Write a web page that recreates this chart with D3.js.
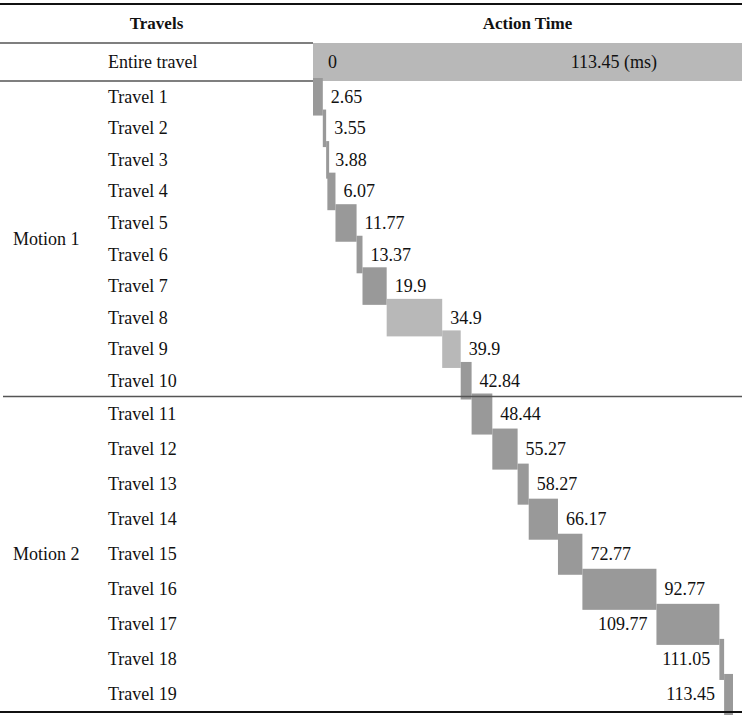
<!DOCTYPE html>
<html>
<head>
<meta charset="utf-8">
<script src="https://cdn.jsdelivr.net/npm/d3@7"></script>
<style>
  html, body { margin: 0; padding: 0; background: #fff; }
  svg { display: block; }
  text { font-family: "Liberation Serif", "Times New Roman", serif; fill: #111; }
</style>
</head>
<body>
<svg id="chart" width="742" height="716"></svg>
<script>
// ---------------- data ----------------
const columnHeaders = ["Travels", "Action Time"];
const groups = ["Motion 1", "Motion 2"];
const travels = ["Travel 1","Travel 2","Travel 3","Travel 4","Travel 5","Travel 6","Travel 7","Travel 8","Travel 9","Travel 10",
                 "Travel 11","Travel 12","Travel 13","Travel 14","Travel 15","Travel 16","Travel 17","Travel 18","Travel 19"];
const travelGroup = ["Motion 1","Motion 1","Motion 1","Motion 1","Motion 1","Motion 1","Motion 1","Motion 1","Motion 1","Motion 1",
                     "Motion 2","Motion 2","Motion 2","Motion 2","Motion 2","Motion 2","Motion 2","Motion 2","Motion 2"];
const endTimes = [2.65, 3.55, 3.88, 6.07, 11.77, 13.37, 19.9, 34.9, 39.9, 42.84,
                  48.44, 55.27, 58.27, 66.17, 72.77, 92.77, 109.77, 111.05, 113.45];
const barTone = ["dark","dark","dark","dark","dark","dark","dark","light","light","dark",
                 "dark","dark","dark","dark","dark","dark","dark","dark","dark"];
const entireLabel = "Entire travel";
const entireStart = 0;
const entireEnd = 113.45;
const timeUnit = "(ms)";

// ---------------- layout ----------------
const W = 742, H = 716;
const splitX = 313;
const topY = 4, headY = 43, entireY = 81, bottomY = 712;
const fontSize = 18;
const headSize = 17;
const colors = { dark: "#999999", light: "#b8b8b8", rule: "#555555" };

const svg = d3.select("#chart");

const rows = travels.map((t, i) => ({
  name: t,
  group: travelGroup[i],
  start: i === 0 ? entireStart : endTimes[i - 1],
  end: endTimes[i],
  tone: barTone[i]
}));

const x = d3.scaleLinear().domain([entireStart, entireEnd]).range([splitX, 733]);
const yGroup = d3.scaleBand().domain(groups).range([entireY, bottomY]);
const yRow = {};
groups.forEach(g => {
  yRow[g] = d3.scaleBand()
    .domain(rows.filter(r => r.group === g).map(r => r.name))
    .range([yGroup(g), yGroup(g) + yGroup.bandwidth()]);
});
const rowCenter = r => yRow[r.group](r.name) + yRow[r.group].bandwidth() / 2;

// Entire travel bar
svg.append("rect")
  .attr("x", x(entireStart)).attr("y", headY)
  .attr("width", W - x(entireStart)).attr("height", entireY - headY)
  .attr("fill", colors.light);

// travel bars
svg.append("g").selectAll("rect").data(rows).join("rect")
  .attr("x", d => x(d.start))
  .attr("width", d => Math.max(3, x(d.end) - x(d.start)))
  .attr("y", d => rowCenter(d) - (yRow[d.group].bandwidth() + 6) / 2)
  .attr("height", d => yRow[d.group].bandwidth() + 6)
  .attr("fill", d => colors[d.tone]);

// rules
svg.append("line").attr("x1", 0).attr("x2", W).attr("y1", topY).attr("y2", topY)
  .attr("stroke", "#111").attr("stroke-width", 2.2);
svg.append("line").attr("x1", 0).attr("x2", splitX).attr("y1", headY).attr("y2", headY)
  .attr("stroke", colors.rule).attr("stroke-width", 1.3);
svg.append("line").attr("x1", 0).attr("x2", splitX).attr("y1", entireY).attr("y2", entireY)
  .attr("stroke", colors.rule).attr("stroke-width", 1.3);
svg.append("line").attr("x1", 3).attr("x2", W).attr("y1", yGroup(groups[1])).attr("y2", yGroup(groups[1]))
  .attr("stroke", colors.rule).attr("stroke-width", 1.3);
svg.append("line").attr("x1", 0).attr("x2", W).attr("y1", bottomY).attr("y2", bottomY)
  .attr("stroke", "#111").attr("stroke-width", 2.2);

// headers
svg.append("text").attr("x", splitX / 2).attr("y", (topY + headY) / 2)
  .attr("text-anchor", "middle").attr("dominant-baseline", "central")
  .attr("font-weight", "bold").attr("font-size", headSize).text(columnHeaders[0]);
svg.append("text").attr("x", (splitX + W) / 2).attr("y", (topY + headY) / 2)
  .attr("text-anchor", "middle").attr("dominant-baseline", "central")
  .attr("font-weight", "bold").attr("font-size", headSize).text(columnHeaders[1]);

// entire travel row text
const entireMid = (headY + entireY) / 2;
svg.append("text").attr("x", 108).attr("y", entireMid).attr("dominant-baseline", "central")
  .attr("font-size", fontSize).text(entireLabel);
svg.append("text").attr("x", x(entireStart) + 15).attr("y", entireMid).attr("dominant-baseline", "central")
  .attr("font-size", fontSize).text(String(entireStart));
svg.append("text").attr("x", x(entireEnd) - 76).attr("y", entireMid).attr("dominant-baseline", "central")
  .attr("text-anchor", "end").attr("font-size", fontSize).text(entireEnd + " " + timeUnit);

// group labels
svg.append("g").selectAll("text").data(groups).join("text")
  .attr("x", 13).attr("y", g => yGroup(g) + yGroup.bandwidth() / 2)
  .attr("dominant-baseline", "central").attr("font-size", fontSize).text(g => g);

// travel labels
svg.append("g").selectAll("text").data(rows).join("text")
  .attr("x", 108).attr("y", d => rowCenter(d))
  .attr("dominant-baseline", "central").attr("font-size", fontSize).text(d => d.name);

// value labels
svg.append("g").selectAll("text").data(rows).join("text")
  .attr("x", d => x(d.end) + 56 > W ? x(d.start) - 9 : x(d.end) + 8)
  .attr("text-anchor", d => x(d.end) + 56 > W ? "end" : "start")
  .attr("y", d => rowCenter(d))
  .attr("dominant-baseline", "central").attr("font-size", fontSize).text(d => d.end);
</script>
</body>
</html>
